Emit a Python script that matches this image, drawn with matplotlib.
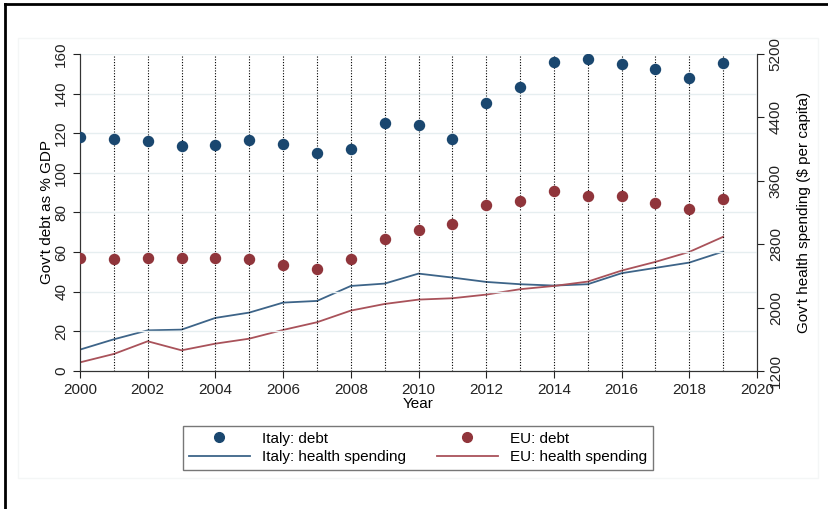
import matplotlib.pyplot as plt
import numpy as np
from matplotlib.lines import Line2D
from matplotlib.patches import Rectangle

plt.rcParams['font.family'] = ['Liberation Sans', 'DejaVu Sans']

years = np.arange(2000, 2020)

# government debt, % of GDP
italy_debt = [117.9, 116.9, 116.0, 113.7, 114.0, 116.7, 114.4, 110.0, 112.3, 125.3,
              124.3, 117.2, 135.4, 143.3, 156.0, 157.5, 155.1, 152.4, 147.7, 155.5]
eu_debt = [56.9, 56.3, 57.1, 56.8, 56.8, 56.4, 53.7, 51.4, 56.3, 66.7,
           71.2, 74.1, 83.9, 85.6, 91.1, 88.4, 88.3, 84.9, 82.0, 86.9]

# government health spending, $ per capita
italy_health = [1470, 1600, 1713, 1722, 1870, 1937, 2063, 2084, 2273, 2303,
                2429, 2379, 2324, 2295, 2278, 2295, 2434, 2501, 2568, 2707]
eu_health = [1309, 1415, 1575, 1461, 1545, 1608, 1718, 1815, 1962, 2046,
             2101, 2118, 2164, 2232, 2273, 2328, 2467, 2577, 2703, 2893]

navy = '#1a476f'
maroon = '#90353b'
navy_line = '#3d6488'
maroon_line = '#a9525a'

fig = plt.figure(figsize=(8.29, 5.09), dpi=100)
ax = fig.add_axes([80 / 829, 1 - 371 / 509, (757 - 80) / 829, (371 - 54) / 509])
ax2 = ax.twinx()

# health spending on the right axis
ax2.plot(years, italy_health, color=navy_line, lw=1.3)
ax2.plot(years, eu_health, color=maroon_line, lw=1.3)
ax2.set_ylim(1200, 5200)
ax2.set_yticks(np.arange(1200, 5201, 800))
ax2.set_ylabel("Gov't health spending ($ per capita)", fontsize=11, labelpad=10)

# debt on the left axis
ax.scatter(years, italy_debt, s=52, color=navy, zorder=3)
ax.scatter(years, eu_debt, s=52, color=maroon, zorder=3)
ax.set_ylim(0, 160)
ax.set_yticks(np.arange(0, 161, 20))
ax.set_xlim(2000, 2020)
ax.set_xticks(np.arange(2000, 2021, 2))
ax.set_xlabel('Year', fontsize=11, labelpad=0)
ax.set_ylabel("Gov't debt as % GDP", fontsize=11, labelpad=0)

ax.grid(axis='y', color='#e6eef0', lw=1)
for yr in years[1:]:
    ax.axvline(yr, color='black', ls=(0, (1, 1.5)), lw=0.8, zorder=1)

for a in (ax, ax2):
    a.spines['top'].set_visible(False)
    a.tick_params(labelsize=11, length=5, width=0.8, colors='#222222')
    for s in a.spines.values():
        s.set_color('#333333')
ax.tick_params(axis='y', labelrotation=90)
ax2.tick_params(axis='y', labelrotation=90)
for t in ax.get_yticklabels() + ax2.get_yticklabels():
    t.set_va('center')
ax2.set_zorder(ax.get_zorder() - 1)
ax.patch.set_visible(False)

handles = [
    Line2D([], [], marker='o', ls='none', color=navy, markersize=7),
    Line2D([], [], color=navy_line, lw=1.3),
    Line2D([], [], marker='o', ls='none', color=maroon, markersize=7),
    Line2D([], [], color=maroon_line, lw=1.3),
]
labels = ['Italy: debt', 'Italy: health spending', 'EU: debt', 'EU: health spending']
leg = fig.legend(handles, labels, ncol=2, loc='center', bbox_to_anchor=(0.504, 0.12),
                 fontsize=11, frameon=True, fancybox=False, handlelength=4,
                 columnspacing=2.0, labelspacing=0.3, borderpad=0.4)
leg.get_frame().set_edgecolor('#555555')
leg.get_frame().set_linewidth(1)

# outer border and faint inner panel
fig.add_artist(Rectangle((18 / 829, 1 - 478 / 509), 800 / 829, 440 / 509,
                         transform=fig.transFigure, fill=False, ec='#f4f6f6', lw=1))
fig.add_artist(Line2D([5 / 829, 5 / 829], [0, 1 - 4 / 509], transform=fig.transFigure,
                      color='black', lw=2))
fig.add_artist(Line2D([5 / 829, 1], [1 - 4 / 509, 1 - 4 / 509], transform=fig.transFigure,
                      color='black', lw=2))

fig.savefig('out.png', dpi=100)
